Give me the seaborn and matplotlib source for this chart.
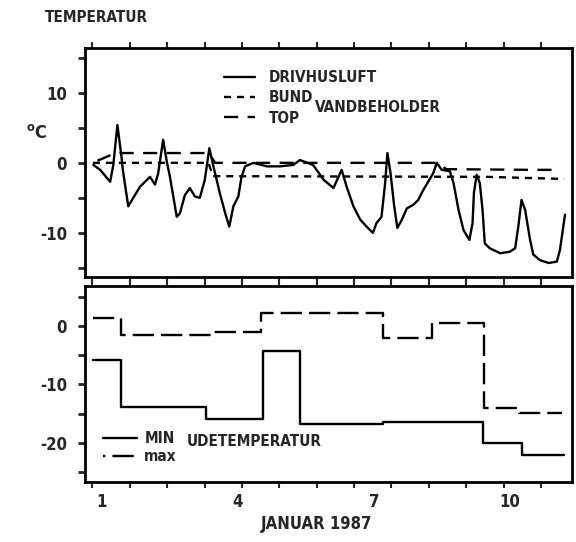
import numpy as np
import pandas as pd
import matplotlib
matplotlib.use("Agg")
import matplotlib.pyplot as plt
import seaborn as sns
from matplotlib.lines import Line2D

# temperature in the greenhouse air (DRIVHUSLUFT)
luft_dag = [0.81, 0.96, 1.18, 1.25, 1.34, 1.43, 1.46, 1.58, 1.69, 1.84, 1.95, 2.06, 2.17, 2.24,
            2.35, 2.43, 2.50, 2.65, 2.72, 2.83, 2.94, 3.05, 3.16, 3.27, 3.37, 3.46, 3.60, 3.72,
            3.81, 3.90, 4.01, 4.08, 4.16, 4.34, 4.64, 4.93, 5.22, 5.37, 5.66, 5.89, 6.11, 6.22,
            6.29, 6.40, 6.55, 6.70, 6.84, 6.98, 7.06, 7.17, 7.25, 7.30, 7.37, 7.45, 7.52, 7.62,
            7.73, 7.87, 7.98, 8.09, 8.20, 8.31, 8.39, 8.50, 8.68, 8.76, 8.87, 8.98, 9.11, 9.18,
            9.21, 9.27, 9.34, 9.40, 9.45, 9.56, 9.79, 10.00, 10.12, 10.19, 10.26, 10.34, 10.45,
            10.52, 10.67, 10.86, 11.04, 11.11, 11.22]
luft_temp = [-0.3, -1.0, -2.7, -0.3, 5.4, 0.9, -1.0, -6.2, -5.0, -3.4, -2.7, -2.0, -3.1, -1.5,
             3.3, 0.2, -2.0, -7.7, -7.2, -4.6, -3.6, -4.8, -5.0, -2.4, 2.1, -0.5, -4.3, -7.2,
             -9.1, -6.2, -4.8, -2.0, -0.5, 0.0, -0.5, -0.5, -0.3, 0.4, -0.3, -2.4, -3.6, -2.0,
             -1.0, -3.4, -6.2, -8.1, -9.1, -10.0, -8.6, -7.7, -2.9, 1.4, -1.5, -6.2, -9.3, -8.1,
             -6.5, -6.0, -5.3, -3.9, -2.7, -1.5, 0.0, -1.0, -1.2, -2.9, -6.7, -9.6, -11.0, -8.6,
             -4.3, -1.7, -2.9, -6.7, -11.5, -12.2, -12.9, -12.7, -12.2, -9.1, -5.3, -6.7, -11.0,
             -13.1, -13.9, -14.3, -14.1, -12.4, -7.4]

# water tank, bottom and top
bund_dag = [0.8, 3.35, 3.45, 9.5, 11.2]
bund_temp = [0.0, 0.0, -1.9, -2.0, -2.3]
top_dag = [0.9, 1.3, 3.35, 3.5, 8.4, 8.6, 10.5, 10.96]
top_temp = [0.3, 1.4, 1.4, 0.0, 0.0, -0.9, -1.0, -1.0]

# outdoor temperature, min and max (steps)
min_dag = [0.8, 1.42, 3.3, 4.56, 5.36, 7.2, 9.4, 10.27, 11.2]
min_temp = [-5.8, -13.8, -15.9, -4.3, -16.8, -16.4, -20.0, -22.1, -22.1]
max_dag = [0.8, 1.42, 3.4, 4.52, 7.2, 8.28, 9.43, 10.2, 11.15]
max_temp = [1.4, -1.5, -1.0, 2.2, -2.1, 0.5, -14.0, -14.9, -14.9]

dag_ticks = [1, 4, 7, 10]

sns.set_style("ticks")
plt.rcParams['font.family'] = ['DejaVu Sans']
plt.rcParams['font.stretch'] = 'condensed'
plt.rcParams['font.weight'] = 'bold'
plt.rcParams['font.size'] = 12
plt.rcParams['axes.unicode_minus'] = False

fig = plt.figure(figsize=(5.76, 5.42), dpi=100)
W, H = 576, 542
ax1 = fig.add_axes([85 / W, 1 - 277 / H, 487 / W, 229 / H])
ax2 = fig.add_axes([85 / W, 1 - 482 / H, 487 / W, 196 / H])

lw = 1.7
df_luft = pd.DataFrame({'dag': luft_dag, 'temp': luft_temp})
sns.lineplot(data=df_luft, x='dag', y='temp', ax=ax1, color='black', lw=lw, sort=False)
ax1.plot(bund_dag, bund_temp, color='black', lw=lw, dashes=(3, 2.5))
ax1.plot(top_dag, top_temp, color='black', lw=lw, dashes=(6, 4))

ax2.plot(min_dag, min_temp, color='black', lw=lw, drawstyle='steps-post')
ax2.plot(max_dag, max_temp, color='black', lw=lw, drawstyle='steps-post', dashes=(9, 3))

ax1.set_ylim(-16.3, 16.4)
ax2.set_ylim(-26.7, 6.8)
ax1.set_yticks([-10, 0, 10])
ax1.set_yticks([-15, -5, 5, 15], minor=True)
ax2.set_yticks([-20, -10, 0])
ax2.set_yticks([-25, -15, -5, 5], minor=True)

for ax in (ax1, ax2):
    ax.set_xlim(0.625, 11.375)
    ax.set_xticks(dag_ticks)
    ax.set_xticks(np.arange(0.79, 11.4, 0.825), minor=True)
    ax.set_xlabel('')
    ax.set_ylabel('')
    for s in ax.spines.values():
        s.set_linewidth(2)
        s.set_color('black')
    ax.tick_params(axis='y', which='both', direction='out', length=5, width=2, labelsize=12, pad=8)
    ax.tick_params(axis='x', which='major', length=0, pad=8, labelsize=12)
    ax.tick_params(axis='x', which='minor', direction='out', length=4, width=1.5,
                   top=True, bottom=True)
ax1.set_xticklabels([])

# legends
leg_font = {'size': 11, 'weight': 'bold', 'stretch': 'condensed'}
h1 = [Line2D([], [], color='black', lw=lw),
      Line2D([], [], color='black', lw=lw, dashes=(3, 2.5)),
      Line2D([], [], color='black', lw=lw, dashes=(6, 4))]
ax1.legend(h1, ['DRIVHUSLUFT', 'BUND', 'TOP'], loc='upper left',
           bbox_to_anchor=((218 - 85) / 487, (277 - 64) / 229), frameon=False,
           handlelength=2.0, handletextpad=0.9, labelspacing=0.35, borderaxespad=0,
           prop=leg_font)
fig.text(315 / W, 1 - 108 / H, 'VANDBEHOLDER', fontsize=11, va='center', ha='left')

h2 = [Line2D([], [], color='black', lw=lw),
      Line2D([], [], color='black', lw=lw, dashes=(1, 3, 9, 3))]
ax2.legend(h2, ['MIN', 'max'], loc='upper left',
           bbox_to_anchor=((97 - 85) / 487, (482 - 425) / 196), frameon=False,
           handlelength=2.2, handletextpad=0.5, labelspacing=0.2, borderaxespad=0,
           prop=leg_font)
fig.text(187 / W, 1 - 442 / H, 'UDETEMPERATUR', fontsize=11, va='center', ha='left')

fig.text(45 / W, 1 - 18 / H, 'TEMPERATUR', fontsize=11, va='center', ha='left')
fig.text(26 / W, 1 - 133 / H, '$^{\\mathrm{o}}$C', fontsize=13, va='center', ha='left')
fig.text(317 / W, 1 - 524 / H, 'JANUAR 1987', fontsize=12, va='center', ha='center')

fig.savefig('out.png', dpi=100, facecolor='white')
